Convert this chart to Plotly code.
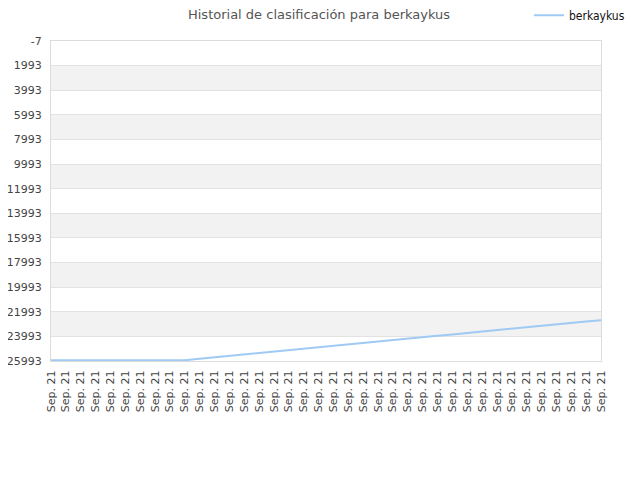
import plotly.graph_objects as go

# puesto en el ranking (menor = mejor), un punto por fecha
fechas = ["Sep. 21"] * 38
puestos = [25930, 25930, 25930, 25930, 25930, 25930, 25930, 25930, 25930, 25930,
           25810, 25690, 25575, 25460, 25340, 25225, 25110, 24990, 24875, 24760,
           24640, 24525, 24410, 24290, 24175, 24060, 23945, 23830, 23710, 23595,
           23480, 23365, 23250, 23130, 23015, 22900, 22790, 22690]
ytick_vals = [-7, 1993, 3993, 5993, 7993, 9993, 11993, 13993, 15993, 17993,
              19993, 21993, 23993, 25993]
ytick_text = [str(v) for v in ytick_vals]
nombre = "berkaykus"

xs = list(range(len(puestos)))

fig = go.Figure()
fig.add_trace(go.Scatter(
    x=xs, y=puestos, mode="lines", name=nombre,
    line=dict(color="#9ecaf4", width=2),
))

# bandas grises alternas
bandas = []
for i in range(1, len(ytick_vals) - 1, 2):
    bandas.append(dict(
        type="rect", xref="paper", yref="y", layer="below",
        x0=0, x1=1, y0=ytick_vals[i], y1=ytick_vals[i + 1],
        fillcolor="#f2f2f2", line=dict(width=0),
    ))

# la pagina desplaza el grafico ~7px, se compensa en los margenes
fig.update_layout(
    width=640, height=480,
    margin=dict(l=43, r=47, t=33, b=127, autoexpand=False),
    paper_bgcolor="white", plot_bgcolor="white",
    font=dict(family="DejaVu Sans", size=11, color="#444"),
    title=dict(text="Historial de clasificación para berkaykus",
               x=0.486, xanchor="center", y=0.9875, yanchor="middle",
               font=dict(family="DejaVu Sans", size=13, color="#555")),
    showlegend=True,
    legend=dict(xref="container", yref="container",
                x=0.814, y=0.985, xanchor="left", yanchor="middle",
                bgcolor="rgba(0,0,0,0)",
                font=dict(family="Liberation Sans Narrow, DejaVu Sans Condensed", size=12, color="#111")),
    shapes=bandas,
)

fig.update_xaxes(
    range=[0, len(puestos) - 1], automargin=False,
    tickmode="array", tickvals=xs, ticktext=fechas, tickangle=-90,
    ticklabelstandoff=4,
    showgrid=False, zeroline=False,
    showline=True, linecolor="#dcdcdc", linewidth=1, mirror=True,
    tickfont=dict(size=11, color="#444"),
)
fig.update_yaxes(
    range=[25993, -7], automargin=False,
    tickmode="array", tickvals=ytick_vals, ticktext=ytick_text,
    ticklabelstandoff=6,
    showgrid=True, gridcolor="#e2e2e2", gridwidth=1, zeroline=False,
    showline=True, linecolor="#dcdcdc", linewidth=1, mirror=True,
    tickfont=dict(size=11, color="#444"),
)

fig.write_html("out.html")
